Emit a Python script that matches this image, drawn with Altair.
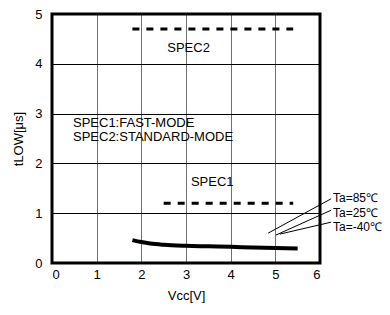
import altair as alt
import pandas as pd

# axis ranges
x_domain = [0, 6]
y_domain = [0, 5]

# main curve
curve_x = [1.8, 2.0, 2.2, 2.5, 3.0, 3.5, 4.0, 4.5, 5.0, 5.5]
curve_y = [0.46, 0.42, 0.39, 0.365, 0.345, 0.335, 0.325, 0.31, 0.30, 0.29]

# spec dashed lines
spec_names = ["SPEC2", "SPEC1"]
spec_x1 = [1.8, 2.5]
spec_x2 = [5.4, 5.4]
spec_y = [4.7, 1.2]

# text labels inside plot
label_text = ["SPEC2", "SPEC1", "SPEC1:FAST-MODE", "SPEC2:STANDARD-MODE"]
label_x = [2.58, 3.11, 0.47, 0.47]
label_y = [4.32, 1.63, 2.82, 2.54]

# temperature annotations (leader lines)
ta_text = ["Ta=85℃", "Ta=25℃", "Ta=-40℃"]
ta_x1 = [6.25, 6.25, 6.25]
ta_y1 = [1.29, 1.06, 0.82]
ta_x2 = [4.84, 5.01, 5.10]
ta_y2 = [0.60, 0.56, 0.58]
ta_tx = [6.29, 6.29, 6.29]
ta_ty = [1.31, 1.0, 0.72]

FONT = "Liberation Sans"
FS = 13

curve_df = pd.DataFrame({"x": curve_x, "y": curve_y})
frame_df = pd.DataFrame({"x": [x_domain[0]], "x2": [x_domain[1]],
                         "y": [y_domain[0]], "y2": [y_domain[1]]})
spec_df = pd.DataFrame({"name": spec_names, "x": spec_x1, "x2": spec_x2, "y": spec_y})
label_df = pd.DataFrame({"t": label_text, "x": label_x, "y": label_y})
ta_df = pd.DataFrame({"t": ta_text, "x": ta_x1, "y": ta_y1, "x2": ta_x2, "y2": ta_y2,
                      "tx": ta_tx, "ty": ta_ty})

xs = alt.Scale(domain=x_domain, nice=False)
ys = alt.Scale(domain=y_domain, nice=False)

common = dict(labelFontSize=FS, titleFontSize=FS, labelFont=FONT, titleFont=FONT,
              labelColor="black", titleColor="black", titleFontWeight="normal",
              ticks=False, domain=False)

xaxis = alt.Axis(values=[0, 1, 2, 3, 4, 5, 6], title="Vcc[V]", grid=True, gridColor="#707070",
                 gridWidth=1, labelPadding=5, titlePadding=8, **common)
yaxis = alt.Axis(values=[0, 1, 2, 3, 4, 5], title="tLOW[μs]", grid=True, gridColor="black",
                 gridWidth=1, labelPadding=10, titlePadding=9, **common)

frame = alt.Chart(frame_df).mark_rect(fill=None, stroke="black", strokeWidth=3,
                                      clip=False).encode(
    x=alt.X("x:Q", scale=xs, axis=xaxis), x2="x2:Q",
    y=alt.Y("y:Q", scale=ys, axis=yaxis), y2="y2:Q",
)

base_curve = alt.Chart(curve_df).mark_line(color="black", strokeWidth=4,
                                            interpolate="monotone").encode(
    x="x:Q", y="y:Q"
)

spec = alt.Chart(spec_df).mark_rule(color="black", strokeWidth=3, strokeDash=[7, 7]).encode(
    x="x:Q", x2="x2:Q", y="y:Q"
)

labels = alt.Chart(label_df).mark_text(align="left", baseline="middle", fontSize=FS,
                                        font=FONT, color="black").encode(
    x="x:Q", y="y:Q", text="t:N"
)

leaders = alt.Chart(ta_df).mark_rule(color="black", strokeWidth=1, clip=False).encode(
    x="x:Q", y="y:Q", x2="x2:Q", y2="y2:Q"
)

ta_labels = alt.Chart(ta_df).mark_text(align="left", baseline="middle", fontSize=12,
                                        font=FONT, color="black", clip=False).encode(
    x="tx:Q", y="ty:Q", text="t:N"
)

chart = alt.layer(frame, base_curve, spec, labels, leaders, ta_labels).properties(
    width=268, height=249,
    background="white",
    autosize=alt.AutoSizeParams(type="none"),
    padding={"left": 44, "top": 6, "right": 62, "bottom": 44},
).configure_view(stroke=None)

chart.save("out.html", embed_options={"renderer": "svg", "actions": False})
